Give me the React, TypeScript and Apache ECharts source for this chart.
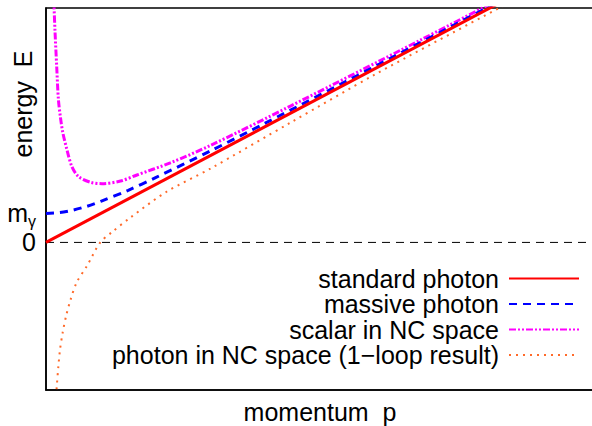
import React, { useEffect, useRef } from "react";
import * as echarts from "echarts";

const seriesNames = [
  "standard photon",
  "massive photon",
  "scalar in NC space",
  "photon in NC space (1\u2212loop result)",
];

// momentum p, energy E
const standardP = [0, 10];
const standardE = [0, 10];

const massiveP = [0, 0.25, 0.5, 0.75, 1, 1.5, 2, 3, 4, 6, 8, 10];
const massiveE = [1.0, 1.03, 1.12, 1.25, 1.42, 1.8, 2.24, 3.16, 4.12, 6.08, 8.06, 10.05];

const scalarP = [0.12, 0.147, 0.165, 0.195, 0.226, 0.265, 0.305, 0.38, 0.47, 0.59, 0.81, 1.02, 1.36, 1.66, 2.27, 3.0, 4.47, 6.81, 8.5, 10];
const scalarE = [9.6, 8.13, 7.27, 6.09, 4.95, 4.3, 3.81, 3.22, 2.63, 2.28, 2.08, 2.03, 2.12, 2.33, 2.75, 3.35, 4.72, 6.97, 8.63, 10.12];

const loopP = [0.17, 0.195, 0.226, 0.256, 0.305, 0.366, 0.45, 0.56, 0.745, 0.99, 1.2, 1.54, 2.2, 3.0, 4.47, 6, 8, 10];
const loopE = [-5.8, -5.02, -4.28, -3.7, -3.11, -2.55, -1.97, -1.38, -0.82, 0, 0.35, 0.86, 1.75, 2.55, 4.15, 5.8, 7.83, 9.85];

// zero-energy reference line
const zeroP = [0, 10];
const zeroE = [0, 0];

const yTickValues = [0, 1];
const yTickLabels = ["0", "{m|m}{g|\u03b3}"];

const xTitle = "momentum  p";
const yTitle = "energy  E";

const zip = (a: number[], b: number[]) => a.map((v, i) => [v, b[i]]);

const FONT = "Liberation Sans";
const FS = 25;

export default function App() {
  const ref = useRef<HTMLDivElement>(null);
  useEffect(() => {
    if (!ref.current) return;
    const chart = echarts.init(ref.current, undefined, { renderer: "svg" });
    chart.setOption({
      animation: false,
      backgroundColor: "#ffffff",
      textStyle: { fontFamily: FONT },
      grid: {
        left: 46,
        right: -2,
        top: 8,
        bottom: 36,
        show: true,
        borderColor: "#000",
        borderWidth: 1.5,
        containLabel: false,
        outerBoundsMode: "none",
      },
      graphic: [
        {
          type: "text",
          x: 23,
          y: 104,
          rotation: Math.PI / 2,
          style: {
            text: yTitle,
            fontSize: FS,
            fontFamily: FONT,
            fill: "#000",
            align: "center",
            verticalAlign: "middle",
          },
        },
      ],
      xAxis: {
        type: "value",
        min: 0,
        max: 10,
        name: xTitle,
        nameLocation: "middle",
        nameGap: 9,
        nameTextStyle: { fontSize: FS, color: "#000", fontFamily: FONT },
        axisLine: { show: true, onZero: false, lineStyle: { color: "#000", width: 1.5 } },
        axisTick: { show: false },
        axisLabel: { show: false },
        splitLine: { show: false },
      },
      yAxis: {
        type: "value",
        min: -5.1,
        max: 8.1,
        axisLine: { show: true, onZero: false, lineStyle: { color: "#000", width: 1.5 } },
        axisTick: { show: false },
        splitLine: { show: false },
        axisLabel: {
          show: true,
          customValues: yTickValues,
          margin: 10,
          color: "#000",
          fontSize: FS,
          fontFamily: FONT,
          formatter: (v: number) => {
            const i = yTickValues.indexOf(v);
            return i >= 0 ? yTickLabels[i] : "";
          },
          rich: {
            m: { fontSize: FS, color: "#000", fontFamily: FONT },
            g: { fontSize: 16, color: "#000", fontFamily: FONT, padding: [16, 0, 0, 0] },
          },
        },
      },
      legend: {
        show: true,
        orient: "vertical",
        right: 12,
        top: 266,
        padding: 0,
        align: "right",
        itemWidth: 70,
        itemHeight: 10,
        itemGap: 0.5,
        itemStyle: { opacity: 0 },
        textStyle: {
          fontSize: FS,
          lineHeight: 25,
          color: "#000",
          fontFamily: FONT,
          padding: [0, 5, 0, 0],
        },
        data: seriesNames,
      },
      series: [
        {
          name: "zero",
          type: "line",
          data: zip(zeroP, zeroE),
          symbol: "none",
          silent: true,
          lineStyle: { color: "#000", width: 1, type: [8, 6] },
          z: 1,
        },
        {
          name: seriesNames[3],
          type: "line",
          data: zip(loopP, loopE),
          smooth: 0.3,
          symbol: "none",
          lineStyle: { color: "#ff6a2a", width: 2, type: [2, 5] },
          itemStyle: { color: "#ff6a2a" },
          z: 2,
        },
        {
          name: seriesNames[2],
          type: "line",
          data: zip(scalarP, scalarE),
          smooth: 0.3,
          symbol: "none",
          lineStyle: { color: "#ff00ff", width: 3, type: [7, 2, 2, 2, 2, 2] },
          itemStyle: { color: "#ff00ff" },
          z: 3,
        },
        {
          name: seriesNames[1],
          type: "line",
          data: zip(massiveP, massiveE),
          smooth: 0.3,
          symbol: "none",
          lineStyle: { color: "#0000ff", width: 3, type: [8, 6] },
          itemStyle: { color: "#0000ff" },
          z: 4,
        },
        {
          name: seriesNames[0],
          type: "line",
          data: zip(standardP, standardE),
          symbol: "none",
          lineStyle: { color: "#ff0000", width: 3 },
          itemStyle: { color: "#ff0000" },
          z: 5,
        },
      ],
    });
    return () => chart.dispose();
  }, []);
  return <div ref={ref} style={{ width: 592, height: 426, position: "absolute", left: 0, top: 0 }} />;
}
